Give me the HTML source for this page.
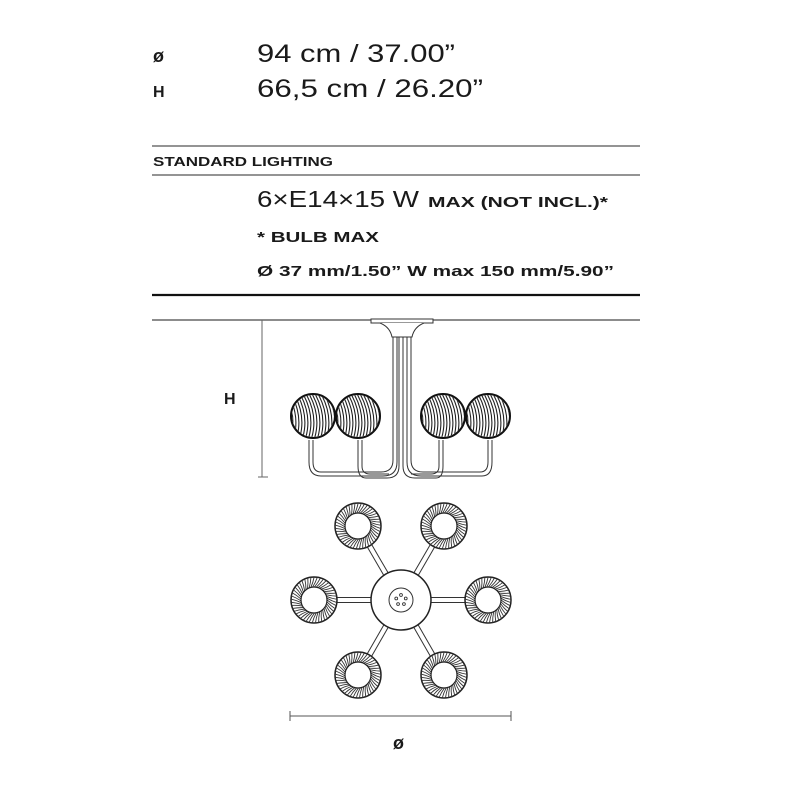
<!DOCTYPE html>
<html><head><meta charset="utf-8"><style>
html,body{margin:0;padding:0;background:#fff;width:800px;height:800px;overflow:hidden}
text{font-family:"Liberation Sans",sans-serif;fill:#1a1a1a}
</style></head><body>
<svg id="s" width="800" height="800" viewBox="0 0 800 800" xmlns="http://www.w3.org/2000/svg">
<defs>
<clipPath id="c1"><circle cx="0" cy="0" r="21"/></clipPath>
</defs>
<text x="153" y="62" font-size="18" font-weight="bold">ø</text>
<text x="257" y="62" font-size="25" textLength="198" lengthAdjust="spacingAndGlyphs">94 cm / 37.00”</text>
<text x="153" y="97" font-size="16" font-weight="bold">H</text>
<text x="257" y="97" font-size="25" textLength="226" lengthAdjust="spacingAndGlyphs">66,5 cm / 26.20”</text>
<line x1="152" y1="146" x2="640" y2="146" stroke="#555" stroke-width="1.2"/>
<text x="153" y="166" font-size="13" font-weight="bold" textLength="180" lengthAdjust="spacingAndGlyphs">STANDARD LIGHTING</text>
<line x1="152" y1="175" x2="640" y2="175" stroke="#555" stroke-width="1.2"/>
<text x="257" y="207" font-size="23" textLength="162" lengthAdjust="spacingAndGlyphs">6×E14×15 W</text>
<text x="428" y="207" font-size="15" font-weight="bold" textLength="180" lengthAdjust="spacingAndGlyphs">MAX (NOT INCL.)*</text>
<text x="257" y="242" font-size="15" font-weight="bold" textLength="122" lengthAdjust="spacingAndGlyphs">* BULB MAX</text>
<text x="257" y="276" font-size="15" font-weight="bold" textLength="357" lengthAdjust="spacingAndGlyphs">Ø 37 mm/1.50”  W max 150 mm/5.90”</text>
<line x1="152" y1="295" x2="640" y2="295" stroke="#111" stroke-width="2.2"/>
<line x1="152" y1="320" x2="640" y2="320" stroke="#666" stroke-width="1.5"/>
<line x1="262" y1="320" x2="262" y2="477" stroke="#666" stroke-width="1"/>
<line x1="258" y1="320" x2="268" y2="320" stroke="#666"/>
<line x1="258" y1="477" x2="268" y2="477" stroke="#666"/>
<text x="224" y="404" font-size="16" font-weight="bold">H</text>
<rect x="371" y="319" width="62" height="4" fill="#fff" stroke="#333"/>
<path d="M380 323 Q390 327 392 337 L412 337 Q414 327 424 323" fill="#fff" stroke="#333"/>
<g fill="none" stroke="#333" stroke-width="1">
<path d="M393 337 V460 Q393 472 381 472 H321 Q313 472 313 462 V440"/>
<path d="M397 337 V462 Q397 476 383 476 H321 Q309 476 309 462 V440"/>
<path d="M399 337 V466 Q399 478 387 478 H366 Q358 478 358 466 V440"/>
<path d="M403 337 V466 Q403 478 415 478 H436 Q443 478 443 466 V440"/>
<path d="M407 337 V462 Q407 476 421 476 H482 Q492 476 492 462 V440"/>
<path d="M411 337 V460 Q411 472 423 472 H480 Q488 472 488 462 V440"/>
<path d="M362 440 V466 Q362 474 370 474 H389"/>
<path d="M439 440 V466 Q439 474 431 474 H411"/>
</g>
<g id="globes"></g>
<g id="top"></g>
<line x1="290" y1="716" x2="511" y2="716" stroke="#555"/>
<line x1="290" y1="711" x2="290" y2="721" stroke="#555"/>
<line x1="511" y1="711" x2="511" y2="721" stroke="#555"/>
<text x="393" y="749" font-size="18" font-weight="bold">ø</text>
</svg>
<script>
var NS="http://www.w3.org/2000/svg";
function el(p,t,a){var e=document.createElementNS(NS,t);for(var k in a)e.setAttribute(k,a[k]);p.appendChild(e);return e;}
var g=document.getElementById("globes");
[313,358,443,488].forEach(function(cx){
  var cy=416;
  var gg=el(g,"g",{transform:"translate("+cx+","+cy+")"});
  el(gg,"circle",{r:22,fill:"#fff"});
  var cl=el(gg,"g",{"clip-path":"url(#c1)"});
  for(var i=-30;i<=30;i+=3){
    el(cl,"path",{d:"M"+(i-8)+" -24 Q"+(i+6)+" 0 "+(i-2)+" 24",stroke:"#222","stroke-width":1.1,fill:"none"});
  }
  el(gg,"circle",{r:22,fill:"none",stroke:"#111","stroke-width":2});
});
var t=document.getElementById("top");
var cx=401,cy=600;
var pts=[[358,526],[444,526],[314,600],[488,600],[358,675],[444,675]];
pts.forEach(function(p){
  var dx=p[0]-cx,dy=p[1]-cy,L=Math.hypot(dx,dy),ux=dx/L,uy=dy/L,nx=-uy,ny=ux;
  [-2.5,2.5].forEach(function(o){
    el(t,"line",{x1:cx+ux*30+nx*o,y1:cy+uy*30+ny*o,x2:p[0]-ux*22+nx*o,y2:p[1]-uy*22+ny*o,stroke:"#333","stroke-width":1});
  });
});
pts.forEach(function(p){
  el(t,"circle",{cx:p[0],cy:p[1],r:23,fill:"#fff",stroke:"#222","stroke-width":1.5});
  for(var a=0;a<360;a+=8){
    var r=a*Math.PI/180,r2=r+0.25;
    el(t,"path",{d:"M"+(p[0]+13*Math.cos(r))+" "+(p[1]+13*Math.sin(r))+" Q"+(p[0]+18*Math.cos(r+0.2))+" "+(p[1]+18*Math.sin(r+0.2))+" "+(p[0]+23*Math.cos(r2))+" "+(p[1]+23*Math.sin(r2)),stroke:"#333","stroke-width":0.9,fill:"none"});
  }
  el(t,"circle",{cx:p[0],cy:p[1],r:13,fill:"#fff",stroke:"#222","stroke-width":1.2});
});
el(t,"circle",{cx:cx,cy:cy,r:30,fill:"#fff",stroke:"#222","stroke-width":1.5});
el(t,"circle",{cx:cx,cy:cy,r:12,fill:"#fff",stroke:"#333","stroke-width":1});
for(var k=0;k<5;k++){var a=k*72*Math.PI/180-Math.PI/2;el(t,"circle",{cx:cx+5*Math.cos(a),cy:cy+5*Math.sin(a),r:1.4,fill:"none",stroke:"#333","stroke-width":0.9});}
</script>
</body></html>
